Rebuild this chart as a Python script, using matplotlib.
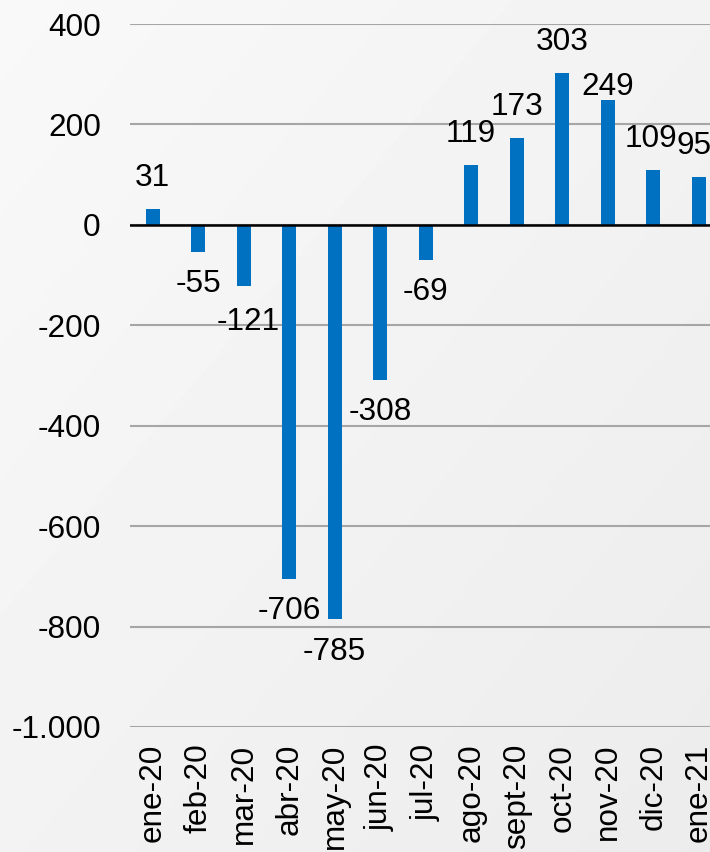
import matplotlib
matplotlib.use("Agg")
import matplotlib.pyplot as plt
import numpy as np
from matplotlib.ticker import FuncFormatter

plt.rcParams['font.family'] = ['Liberation Sans', 'DejaVu Sans']

categories = ["ene-20", "feb-20", "mar-20", "abr-20", "may-20", "jun-20", "jul-20",
              "ago-20", "sept-20", "oct-20", "nov-20", "dic-20", "ene-21"]
values = [31, -55, -121, -706, -785, -308, -69, 119, 173, 303, 249, 109, 95]
y_ticks = [400, 200, 0, -200, -400, -600, -800, -1000]

W, H, DPI = 710, 852, 100
FS = 22.7
fig = plt.figure(figsize=(W / DPI, H / DPI), dpi=DPI)

# subtle grey background gradient
bg = fig.add_axes([0, 0, 1, 1], zorder=-10)
yy, xx = np.mgrid[0:1:200j, 0:1:200j]
grad = 0.975 - 0.05 * (0.5 * xx + 0.5 * yy)
bg.imshow(grad, cmap='gray', vmin=0, vmax=1, aspect='auto', extent=[0, 1, 0, 1])
bg.axis('off')

left = 130 / W
bottom = 1 - 727 / H
top = 1 - 24 / H
ax = fig.add_axes([left, bottom, 1 - left, top - bottom])
ax.patch.set_alpha(0)

x = np.arange(len(categories))
ax.bar(x, values, width=0.31, color='#0070C0', zorder=3)

ax.set_xlim(-0.5, 12.25)
ax.set_ylim(-1000, 400)
ax.set_yticks(y_ticks)
ax.yaxis.set_major_formatter(FuncFormatter(
    lambda v, p: f"{int(v):,}".replace(",", ".")))
ax.grid(axis='y', color='#a6a6a6', linewidth=1.5, zorder=1)
ax.axhline(0, color='black', linewidth=1.8, zorder=4)
for s in ax.spines.values():
    s.set_visible(False)

ax.set_xticks(x)
ax.set_xticklabels(categories, rotation=90, ha='center', va='top')
ax.tick_params(axis='x', length=0, pad=12, labelsize=FS)
ax.tick_params(axis='y', length=0, pad=21, labelsize=FS)

px = 72 / DPI
for i, v in enumerate(values):
    off = 31 if v >= 0 else -32
    dx = 0
    if categories[i] == "nov-20":
        off = 13
    if categories[i] == "dic-20":
        dx = -2
    if categories[i] == "ene-21":
        dx = -5
    if categories[i] == "mar-20":
        dx = 4
        off = -36
    if categories[i] == "may-20":
        off = -33
    ax.annotate(f"{v}", (i, v), xytext=(dx * px, off * px), textcoords='offset points',
                ha='center', va='center', fontsize=FS, color='black', zorder=5,
                annotation_clip=False)

fig.savefig("out.png", dpi=DPI)
